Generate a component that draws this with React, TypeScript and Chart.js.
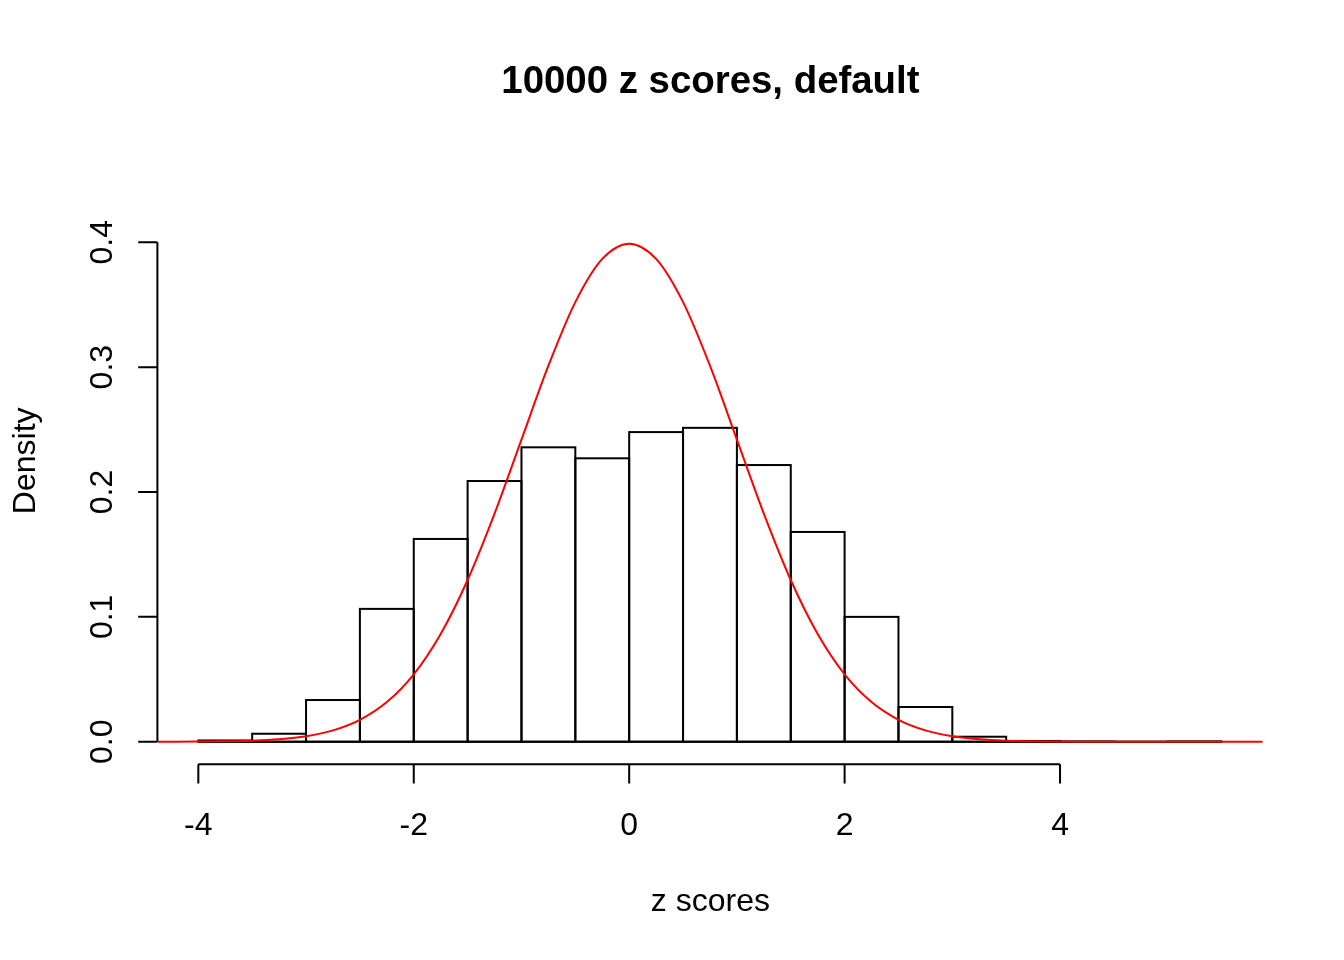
import React, { useEffect, useRef } from "react";
import { Chart, registerables } from "chart.js";

Chart.register(...registerables);

// Histogram bins (centres, width 0.5) and densities
const binCenters = [-3.75, -3.25, -2.75, -2.25, -1.75, -1.25, -0.75, -0.25, 0.25, 0.75, 1.25, 1.75, 2.25, 2.75, 3.25, 3.75, 4.25, 4.75, 5.25];
const binDensities = [0.001, 0.0064, 0.0334, 0.1064, 0.1624, 0.2088, 0.2358, 0.227, 0.248, 0.2514, 0.2216, 0.168, 0.1, 0.0278, 0.004, 0.0006, 0.0002, 0, 0.0002];
const breaksRange = [-4, 5.5];

// Normal density curve, read at points across the plot
const curveX = [-4.38, -4.25, -4, -3.75, -3.5, -3.25, -3, -2.75, -2.5, -2.25, -2, -1.75, -1.5, -1.25, -1, -0.75, -0.5, -0.25, 0, 0.25, 0.5, 0.75, 1, 1.25, 1.5, 1.75, 2, 2.25, 2.5, 2.75, 3, 3.25, 3.5, 3.75, 4, 4.25, 4.5, 5, 5.5, 5.88];
const curveY = [0.00003, 0.00005, 0.00013, 0.00035, 0.00087, 0.00203, 0.00443, 0.00909, 0.01753, 0.03174, 0.05399, 0.08628, 0.12952, 0.18265, 0.24197, 0.30114, 0.35207, 0.38667, 0.39894, 0.38667, 0.35207, 0.30114, 0.24197, 0.18265, 0.12952, 0.08628, 0.05399, 0.03174, 0.01753, 0.00909, 0.00443, 0.00203, 0.00087, 0.00035, 0.00013, 0.00005, 0.00002, 0.0, 0.0, 0.0];

const xTickValues = [-4, -2, 0, 2, 4];
const xTickLabels = ["-4", "-2", "0", "2", "4"];
const yTickValues = [0, 0.1, 0.2, 0.3, 0.4];
const yTickLabels = ["0.0", "0.1", "0.2", "0.3", "0.4"];

const titleText = "10000 z scores, default";
const xTitle = "z scores";
const yTitle = "Density";

const FONT = "'Liberation Sans', Arial, Helvetica, sans-serif";

// Outline each histogram bar with a centred 2px line (as R's rect does)
const barOutlinePlugin = {
  id: "barOutline",
  afterDatasetDraw(chart: any, args: any) {
    const meta = args.meta;
    if (meta.type !== "bar") return;
    const ctx = chart.ctx;
    const area = chart.chartArea;
    ctx.save();
    ctx.beginPath();
    ctx.rect(area.left, area.top, area.right - area.left, area.bottom - area.top);
    ctx.clip();
    ctx.strokeStyle = "#000";
    ctx.lineWidth = 2;
    ctx.lineJoin = "miter";
    meta.data.forEach((el: any) => {
      const p = el.getProps(["x", "y", "base", "width"], true);
      const left = p.x - p.width / 2;
      ctx.strokeRect(left, p.y, p.width, p.base - p.y);
    });
    ctx.restore();
  },
};

const rAxesPlugin = {
  id: "rAxes",
  afterDraw(chart: any) {
    const ctx = chart.ctx;
    const xs = chart.scales.x;
    const ys = chart.scales.y;
    const area = chart.chartArea;
    const cx = (area.left + area.right) / 2;
    const cy = (area.top + area.bottom) / 2;
    ctx.save();
    ctx.strokeStyle = "#000";
    ctx.fillStyle = "#000";
    ctx.lineWidth = 2;
    ctx.lineCap = "butt";

    // x axis
    const axY = area.bottom;
    const tick = 19.2;
    ctx.beginPath();
    ctx.moveTo(xs.getPixelForValue(xTickValues[0]), axY);
    ctx.lineTo(xs.getPixelForValue(xTickValues[xTickValues.length - 1]), axY);
    xTickValues.forEach((v) => {
      const px = xs.getPixelForValue(v);
      ctx.moveTo(px, axY);
      ctx.lineTo(px, axY + tick);
    });
    ctx.stroke();
    ctx.font = `32px ${FONT}`;
    ctx.textAlign = "center";
    ctx.textBaseline = "alphabetic";
    xTickValues.forEach((v, i) => {
      ctx.fillText(xTickLabels[i], xs.getPixelForValue(v), 835);
    });

    // y axis
    const axX = area.left;
    ctx.beginPath();
    ctx.moveTo(axX, ys.getPixelForValue(yTickValues[0]));
    ctx.lineTo(axX, ys.getPixelForValue(yTickValues[yTickValues.length - 1]));
    yTickValues.forEach((v) => {
      const py = ys.getPixelForValue(v);
      ctx.moveTo(axX, py);
      ctx.lineTo(axX - tick, py);
    });
    ctx.stroke();
    yTickValues.forEach((v, i) => {
      ctx.save();
      ctx.translate(112, ys.getPixelForValue(v));
      ctx.rotate(-Math.PI / 2);
      ctx.fillText(yTickLabels[i], 0, 0);
      ctx.restore();
    });

    // axis titles
    ctx.fillText(xTitle, cx, 911);
    ctx.save();
    ctx.translate(35, cy);
    ctx.rotate(-Math.PI / 2);
    ctx.fillText(yTitle, 0, 0);
    ctx.restore();

    // main title
    ctx.font = `bold 38.4px ${FONT}`;
    ctx.fillText(titleText, cx, 93);
    ctx.restore();
  },
};

export default function App() {
  const ref = useRef<HTMLCanvasElement | null>(null);

  useEffect(() => {
    if (!ref.current) return;
    const chart = new Chart(ref.current, {
      type: "bar",
      data: {
        datasets: [
          {
            type: "line",
            label: "dnorm",
            data: curveX.map((x, i) => ({ x, y: curveY[i] })),
            borderColor: "#FF0000",
            borderWidth: 2,
            pointRadius: 0,
            fill: false,
            cubicInterpolationMode: "monotone",
            order: 0,
          } as any,
          {
            type: "line",
            label: "baseline",
            data: breaksRange.map((x) => ({ x, y: 0 })),
            borderColor: "#000000",
            borderWidth: 2,
            pointRadius: 0,
            fill: false,
            order: 1,
          } as any,
          {
            type: "bar",
            label: "hist",
            data: binCenters.map((x, i) => ({ x, y: binDensities[i] })),
            backgroundColor: "#FFFFFF",
            borderWidth: 0,
            barPercentage: 1,
            categoryPercentage: 1,
            order: 2,
          } as any,
        ],
      },
      options: {
        responsive: false,
        animation: false,
        events: [],
        layout: { padding: { left: 157.4, top: 157.4, right: 80.6, bottom: 195.8 } },
        plugins: { legend: { display: false }, tooltip: { enabled: false }, title: { display: false } },
        scales: {
          x: { type: "linear", min: -4.38, max: 5.888, offset: false, display: false, grid: { offset: false } },
          y: { type: "linear", min: -0.018, max: 0.468, display: false },
        },
      },
      plugins: [barOutlinePlugin, rAxesPlugin],
    });
    return () => chart.destroy();
  }, []);

  return (
    <div style={{ position: "absolute", left: 0, top: 0, width: 1344, height: 960, background: "#fff" }}>
      <canvas ref={ref} width={1344} height={960} style={{ display: "block", width: 1344, height: 960 }} />
    </div>
  );
}
